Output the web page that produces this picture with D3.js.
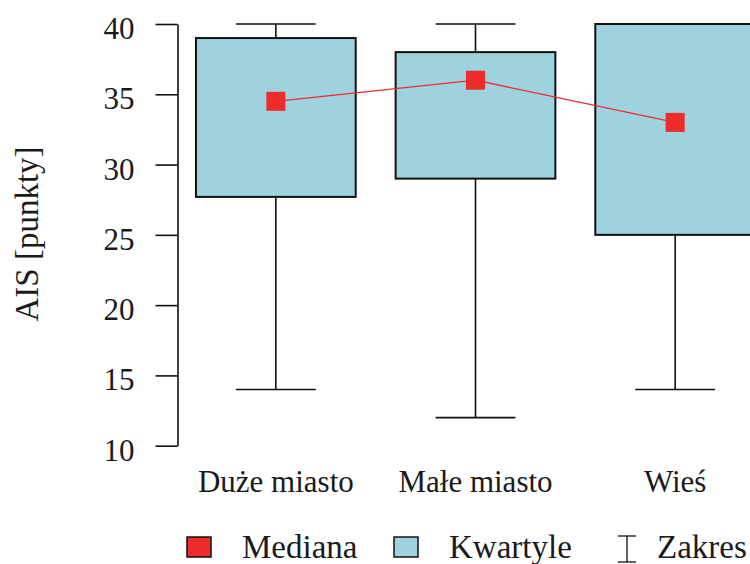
<!DOCTYPE html>
<html>
<head>
<meta charset="utf-8">
<script src="https://cdn.jsdelivr.net/npm/d3@7/dist/d3.min.js"></script>
<style>
  html, body { margin: 0; padding: 0; background: #fff; }
  svg { display: block; }
  text { font-family: "Liberation Serif", "DejaVu Serif", serif; fill: #1a1a1a; }
</style>
</head>
<body>
<svg id="chart" width="750" height="564"></svg>
<script>
// AIS scores by place of residence
const categories = ["Duże miasto", "Małe miasto", "Wieś"];
const minValues = [14, 12, 14];
const q1Values = [27.7, 29, 25];
const medianValues = [34.5, 36, 33];
const q3Values = [39, 38, 40];
const maxValues = [40, 40, 40];
const yTicks = [10, 15, 20, 25, 30, 35, 40];
const legendLabels = ["Mediana", "Kwartyle", "Zakres"];

const boxFill = "#9fd2df";
const medianColor = "#ee2c2c";

const svg = d3.select("#chart");

const x = d3.scaleBand().domain(categories).range([176, 775]).padding(0);
const y = d3.scaleLinear().domain([10, 40]).range([445.7, 24]);

const boxW = x.bandwidth() * 0.8;
const capW = boxW / 2;
const cx = c => x(c) + x.bandwidth() / 2;

const rows = categories.map((c, i) => ({
  cat: c, min: minValues[i], q1: q1Values[i], med: medianValues[i], q3: q3Values[i], max: maxValues[i]
}));

// y axis
const yAxis = d3.axisLeft(y).tickValues(yTicks).tickSize(22).tickPadding(21).tickSizeOuter(0);
const gy = svg.append("g").attr("transform", "translate(177.5,0)").call(yAxis);
gy.select(".domain").attr("stroke", "#111").attr("stroke-width", 1.6);
gy.selectAll(".tick line").attr("stroke", "#111").attr("stroke-width", 1.6);
gy.selectAll(".tick text")
  .attr("font-size", 31)
  .attr("dy", "0.47em")
  .style("font-family", "'Liberation Serif', serif")
  .attr("fill", "#1a1a1a");

svg.append("text")
  .attr("transform", "translate(38,234) rotate(-90)")
  .attr("text-anchor", "middle")
  .attr("font-size", 33)
  .attr("fill", "#333")
  .text("AIS [punkty]");

// clip to plotting area on the right
svg.append("defs").append("clipPath").attr("id", "plotClip")
  .append("rect").attr("x", 178).attr("y", 0).attr("width", 572).attr("height", 460);

const plot = svg.append("g").attr("clip-path", "url(#plotClip)");

const boxes = plot.selectAll("g.box").data(rows).join("g").attr("class", "box");

// whiskers
boxes.append("line")
  .attr("x1", d => cx(d.cat)).attr("x2", d => cx(d.cat))
  .attr("y1", d => y(d.max)).attr("y2", d => y(d.q3))
  .attr("stroke", "#111").attr("stroke-width", 1.6);
boxes.append("line")
  .attr("x1", d => cx(d.cat)).attr("x2", d => cx(d.cat))
  .attr("y1", d => y(d.q1)).attr("y2", d => y(d.min))
  .attr("stroke", "#111").attr("stroke-width", 1.6);
// caps
boxes.append("line")
  .attr("x1", d => cx(d.cat) - capW / 2).attr("x2", d => cx(d.cat) + capW / 2)
  .attr("y1", d => y(d.max)).attr("y2", d => y(d.max))
  .attr("stroke", "#111").attr("stroke-width", 1.6);
boxes.append("line")
  .attr("x1", d => cx(d.cat) - capW / 2).attr("x2", d => cx(d.cat) + capW / 2)
  .attr("y1", d => y(d.min)).attr("y2", d => y(d.min))
  .attr("stroke", "#111").attr("stroke-width", 1.6);

// quartile boxes
boxes.append("rect")
  .attr("x", d => cx(d.cat) - boxW / 2)
  .attr("y", d => y(d.q3))
  .attr("width", boxW)
  .attr("height", d => y(d.q1) - y(d.q3))
  .attr("fill", boxFill)
  .attr("stroke", "#111")
  .attr("stroke-width", 2);

// median line and markers
plot.append("path")
  .datum(rows)
  .attr("fill", "none")
  .attr("stroke", medianColor)
  .attr("stroke-width", 1.3)
  .attr("d", d3.line().x(d => cx(d.cat)).y(d => y(d.med)));

const ms = 19;
plot.selectAll("rect.med").data(rows).join("rect")
  .attr("class", "med")
  .attr("x", d => cx(d.cat) - ms / 2)
  .attr("y", d => y(d.med) - ms / 2)
  .attr("width", ms).attr("height", ms)
  .attr("fill", medianColor);

// category labels
const xAxis = d3.axisBottom(x).tickSize(0).tickPadding(0);
const gx = svg.append("g").attr("transform", "translate(0,470)").call(xAxis);
gx.select(".domain").remove();
gx.selectAll(".tick text")
  .attr("font-size", 31)
  .attr("dy", "0.72em")
  .style("font-family", "'Liberation Serif', serif")
  .attr("fill", "#1a1a1a");

// legend
const lg = svg.append("g");
const legendY = 547;
const legendFont = 33;
lg.append("rect").attr("x", 187).attr("y", legendY - 10).attr("width", 24).attr("height", 20)
  .attr("fill", medianColor).attr("stroke", "#111").attr("stroke-width", 1.5);
lg.append("text").attr("x", 242).attr("y", 558).attr("font-size", legendFont).text(legendLabels[0]);
lg.append("rect").attr("x", 394).attr("y", legendY - 10).attr("width", 24).attr("height", 20)
  .attr("fill", boxFill).attr("stroke", "#111").attr("stroke-width", 1.5);
lg.append("text").attr("x", 449).attr("y", 558).attr("font-size", legendFont).text(legendLabels[1]);
const ix = 627;
lg.append("line").attr("x1", ix).attr("x2", ix).attr("y1", 536).attr("y2", 562)
  .attr("stroke", "#222").attr("stroke-width", 1.4);
lg.append("line").attr("x1", ix - 9).attr("x2", ix + 9).attr("y1", 536).attr("y2", 536)
  .attr("stroke", "#222").attr("stroke-width", 1.4);
lg.append("line").attr("x1", ix - 9).attr("x2", ix + 9).attr("y1", 562).attr("y2", 562)
  .attr("stroke", "#222").attr("stroke-width", 1.4);
lg.append("text").attr("x", 657).attr("y", 558).attr("font-size", legendFont).text(legendLabels[2]);
</script>
</body>
</html>
